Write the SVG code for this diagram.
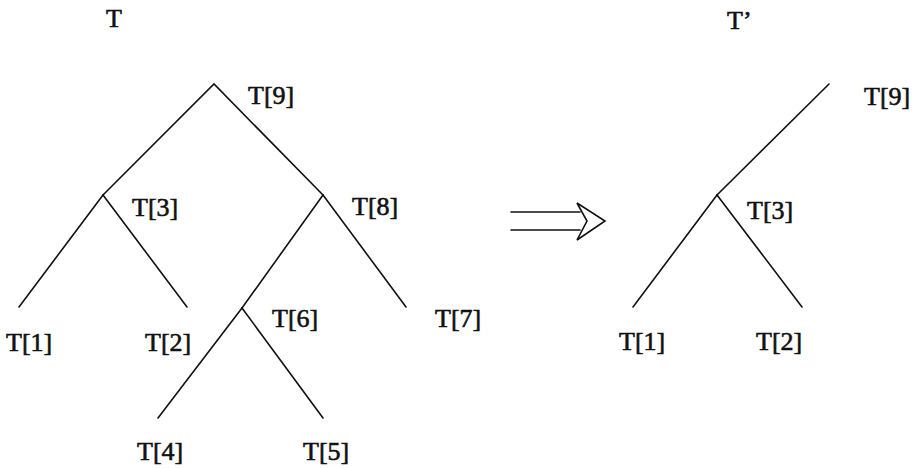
<svg xmlns="http://www.w3.org/2000/svg" width="918" height="468" viewBox="0 0 918 468">
<style>
text{font-family:"Liberation Serif","DejaVu Serif",serif;font-size:26px;fill:#111;stroke:#111;stroke-width:0.6}
.e{stroke:#111;stroke-width:1.6;fill:none;stroke-linecap:round}
</style>
<rect width="918" height="468" fill="#fff"/>
<g id="connectors">
<polyline class="e" points="103,195 214,84 323,195"/>
<line class="e" x1="103" y1="195" x2="19" y2="307"/>
<line class="e" x1="103" y1="195" x2="187" y2="307"/>
<line class="e" x1="323" y1="195" x2="242" y2="308"/>
<line class="e" x1="323" y1="195" x2="406" y2="307"/>
<line class="e" x1="242" y1="308" x2="158" y2="418"/>
<line class="e" x1="242" y1="308" x2="323" y2="418"/>
<line class="e" x1="717" y1="195" x2="829" y2="84"/>
<line class="e" x1="717" y1="195" x2="633" y2="307"/>
<line class="e" x1="717" y1="195" x2="802" y2="307"/>
</g>
<g id="transform-arrow">
<line class="e" x1="511" y1="212" x2="580" y2="212" stroke-width="1.3"/>
<line class="e" x1="511" y1="230" x2="580" y2="230" stroke-width="1.3"/>
<polygon class="e" points="577,203 605,221 577,240 587,221" stroke-linejoin="miter"/>
</g>
<g id="tree-T">
<text x="106" y="27">T</text>
<g id="n9"><text x="248" y="104">T[9]</text></g>
<g id="n3"><text x="132" y="216">T[3]</text></g>
<g id="n8"><text x="352" y="215">T[8]</text></g>
<g id="n1"><text x="6" y="351">T[1]</text></g>
<g id="n2"><text x="145" y="351">T[2]</text></g>
<g id="n6"><text x="272" y="327">T[6]</text></g>
<g id="n7"><text x="435" y="327">T[7]</text></g>
<g id="n4"><text x="137" y="460">T[4]</text></g>
<g id="n5"><text x="303" y="460">T[5]</text></g>
</g>
<g id="tree-Tprime">
<text x="727" y="29">T’</text>
<g id="p9"><text x="864" y="105">T[9]</text></g>
<g id="p3"><text x="747" y="219">T[3]</text></g>
<g id="p1"><text x="619" y="350">T[1]</text></g>
<g id="p2"><text x="756" y="350">T[2]</text></g>
</g>
</svg>
